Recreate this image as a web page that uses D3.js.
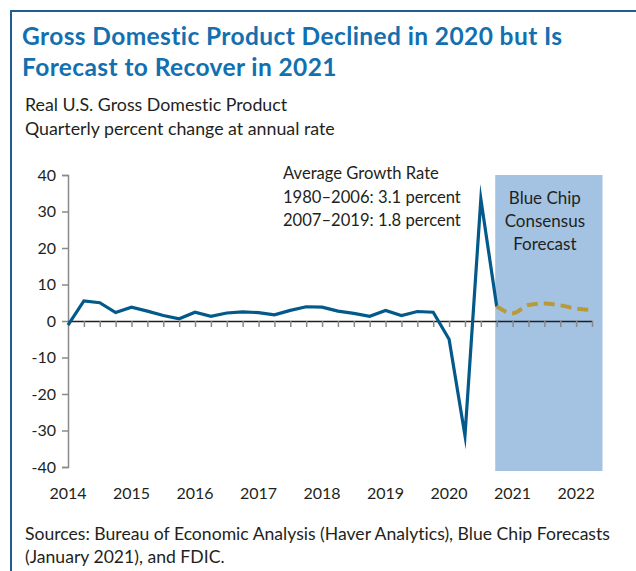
<!DOCTYPE html>
<html>
<head>
<meta charset="utf-8">
<script src="https://cdn.jsdelivr.net/npm/d3@7"></script>
<style>
  html, body { margin: 0; padding: 0; background: #fff; }
  svg { display: block; }
  text { font-family: Lato, "Noto Sans", sans-serif; fill: #231f20; font-variant-ligatures: none; }
</style>
</head>
<body>
<div id="chart"></div>
<script>
// ---- data ----
const quarters = [
  "2014Q1","2014Q2","2014Q3","2014Q4",
  "2015Q1","2015Q2","2015Q3","2015Q4",
  "2016Q1","2016Q2","2016Q3","2016Q4",
  "2017Q1","2017Q2","2017Q3","2017Q4",
  "2018Q1","2018Q2","2018Q3","2018Q4",
  "2019Q1","2019Q2","2019Q3","2019Q4",
  "2020Q1","2020Q2","2020Q3","2020Q4",
  "2021Q1","2021Q2","2021Q3","2021Q4",
  "2022Q1","2022Q2"
];
const actualQuarters = quarters.slice(0, 28);
const actualValues = [
  -1.1, 5.5, 5.0, 2.3,
   3.8, 2.7, 1.5, 0.6,
   2.4, 1.3, 2.2, 2.5,
   2.3, 1.7, 2.9, 3.9,
   3.8, 2.7, 2.1, 1.3,
   2.9, 1.5, 2.6, 2.4,
  -5.0, -31.4, 33.4, 4.0
];
const forecastQuarters = ["2020Q4","2021Q1","2021Q2","2021Q3","2021Q4","2022Q1","2022Q2"];
const forecastValues = [4.0, 2.1, 4.4, 4.8, 4.3, 3.4, 3.0];
const yearLabels = ["2014","2015","2016","2017","2018","2019","2020","2021","2022"];
const yTicks = [40, 30, 20, 10, 0, -10, -20, -30, -40];

const titleLines = ["Gross Domestic Product Declined in 2020 but Is", "Forecast to Recover in 2021"];
const subtitleLines = ["Real U.S. Gross Domestic Product", "Quarterly percent change at annual rate"];
const noteLines = ["Average Growth Rate", "1980\u20132006: 3.1 percent", "2007\u20132019: 1.8 percent"];
const boxLines = ["Blue Chip", "Consensus", "Forecast"];
const sourceLines = ["Sources: Bureau of Economic Analysis (Haver Analytics), Blue Chip Forecasts", "(January 2021), and FDIC."];

// ---- layout ----
const W = 636, H = 571;
const svg = d3.select("#chart").append("svg").attr("width", W).attr("height", H);
svg.append("rect").attr("width", W).attr("height", H).attr("fill", "#fff");

// frame
svg.append("path").attr("d", `M11,${H} V11 H${W}`).attr("fill", "none")
  .attr("stroke", "#1d5e94").attr("stroke-width", 2);

// title
svg.append("g").selectAll("text").data(titleLines).join("text")
  .attr("x", 22).attr("y", (d, i) => 45 + i * 30.5)
  .style("font-size", "24.5px").style("font-weight", 700).style("fill", "#1270b0")
  .style("letter-spacing", "0.4px")
  .text(d => d);

svg.append("g").selectAll("text").data(subtitleLines).join("text")
  .attr("x", 25).attr("y", (d, i) => 111 + i * 24)
  .style("font-size", "17.8px")
  .text(d => d);

const x = d3.scalePoint().domain(quarters).range([68, 592]);
const y = d3.scaleLinear().domain([-40, 40]).range([467, 175]);

// forecast box
const boxX0 = x("2020Q4") - 1.5, boxX1 = x("2022Q2") + 10.5;
svg.append("rect")
  .attr("x", boxX0).attr("y", y(40))
  .attr("width", boxX1 - boxX0).attr("height", y(-40) - y(40) + 4)
  .attr("fill", "#a4c3e2");

svg.append("g").selectAll("text").data(boxLines).join("text")
  .attr("x", (boxX0 + boxX1) / 2 - 4).attr("y", (d, i) => 204 + i * 23)
  .attr("text-anchor", "middle").style("font-size", "17px")
  .text(d => d);

// annotation
svg.append("g").selectAll("text").data(noteLines).join("text")
  .attr("x", 283).attr("y", (d, i) => 179 + i * 23.5)
  .style("font-size", "16.6px")
  .text(d => d);

// y axis
const yAxis = svg.append("g").attr("transform", "translate(68,0)")
  .call(d3.axisLeft(y).tickValues(yTicks).tickSize(6).tickPadding(6).tickFormat(d => String(d)));
yAxis.select(".domain").attr("stroke", "#8a8a8a").attr("stroke-width", 1.5);
yAxis.selectAll(".tick line").attr("stroke", "#8a8a8a").attr("stroke-width", 1.5);
yAxis.selectAll(".tick text").style("font-size", "16px").style("font-family", "Lato, 'Noto Sans', sans-serif").attr("fill", "#231f20");

// x axis (zero line with quarter ticks)
const xAxis = svg.append("g").attr("transform", `translate(0,${y(0)})`)
  .call(d3.axisBottom(x).tickValues(quarters.slice(1)).tickSize(6).tickSizeOuter(0).tickFormat(""));
xAxis.select(".domain").attr("stroke", "#231f20").attr("stroke-width", 1.5);
xAxis.selectAll(".tick line").attr("stroke", "#8a8a8a").attr("stroke-width", 1.5);

// year labels
svg.append("g").selectAll("text").data(yearLabels).join("text")
  .attr("x", d => x(d + "Q1")).attr("y", 499)
  .attr("text-anchor", "middle").style("font-size", "16px")
  .text(d => d);

// actual line
const line = d3.line().x(d => x(d[0])).y(d => y(d[1]));
svg.append("path")
  .datum(d3.zip(actualQuarters, actualValues))
  .attr("d", line)
  .attr("fill", "none").attr("stroke", "#035a8a").attr("stroke-width", 3.2)
  .attr("stroke-linejoin", "miter").attr("stroke-miterlimit", 10);

// forecast line
const fline = d3.line().x(d => x(d[0])).y(d => y(d[1])).curve(d3.curveMonotoneX);
svg.append("path")
  .datum(d3.zip(forecastQuarters, forecastValues))
  .attr("d", fline)
  .attr("fill", "none").attr("stroke", "#b89a3a").attr("stroke-width", 4)
  .attr("stroke-dasharray", "11,6");

// sources
svg.append("g").selectAll("text").data(sourceLines).join("text")
  .attr("x", 25).attr("y", (d, i) => 540 + i * 22.5)
  .style("font-size", "17.6px")
  .text(d => d);
</script>
</body>
</html>
